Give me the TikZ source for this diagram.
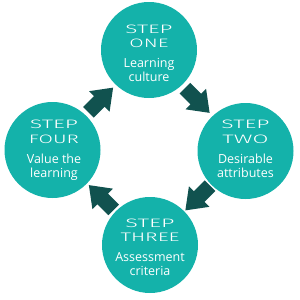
\documentclass[tikz,border=0pt]{standalone}
\usepackage{fontspec}
\usepackage{graphicx}
\setmainfont{Open Sans}
\newfontfamily\stepfont{Fira Sans Light}
\usetikzlibrary{calc}
\definecolor{tealc}{RGB}{20,178,170}
\definecolor{darkc}{RGB}{17,82,79}
\newcommand{\wordbox}[2]{\resizebox{#1pt}{8.5pt}{#2}}
\tikzset{
  stepcircle/.style={circle, fill=tealc, minimum size=96pt, inner sep=0pt},
  steptxt/.style={text=white, anchor=base, inner sep=0pt, font=\stepfont},
  bodytxt/.style={text=white, anchor=base, inner sep=0pt, font=\fontsize{12.5}{14}\selectfont},
  blockarrow/.pic={\fill[darkc] (-17.5,-7.5) -- (-2,-7.5) -- (-2,-14.5) -- (17.5,0) -- (-2,14.5) -- (-2,7.5) -- (-17.5,7.5) -- cycle;}
}
\begin{document}
\begin{tikzpicture}[x=1pt,y=-1pt]
\useasboundingbox (0,0) rectangle (300,300);
% circles
\node[stepcircle] (one) at (149,50) {};
\node[stepcircle] (two) at (245.5,151) {};
\node[stepcircle] (three) at (150,245) {};
\node[stepcircle] (four) at (52.5,150) {};
% texts
\node[steptxt] (oneA) at ($(one.center)+(0,-17)$) {\wordbox{47}{STEP}};
\node[steptxt] (oneB) at ($(one.center)+(0,-3)$) {\wordbox{39}{ONE}};
\node[bodytxt] (oneC) at ($(one.center)+(0,17)$) {Learning};
\node[bodytxt] (oneD) at ($(one.center)+(0,31)$) {culture};
\node[steptxt] (twoA) at ($(two.center)+(0,-22.5)$) {\wordbox{48}{STEP}};
\node[steptxt] (twoB) at ($(two.center)+(0,-8)$) {\wordbox{46}{TWO}};
\node[bodytxt] (twoC) at ($(two.center)+(0,12)$) {Desirable};
\node[bodytxt] (twoD) at ($(two.center)+(0,26)$) {attributes};
\node[steptxt] (threeA) at ($(three.center)+(0,-17.3)$) {\wordbox{49}{STEP}};
\node[steptxt] (threeB) at ($(three.center)+(0,-3.3)$) {\wordbox{59}{THREE}};
\node[bodytxt] (threeC) at ($(three.center)+(0,16)$) {Assessment};
\node[bodytxt] (threeD) at ($(three.center)+(0,30)$) {criteria};
\node[steptxt] (fourA) at ($(four.center)+(1.5,-21.7)$) {\wordbox{48}{STEP}};
\node[steptxt] (fourB) at ($(four.center)+(1.5,-7)$) {\wordbox{50}{FOUR}};
\node[bodytxt] (fourC) at ($(four.center)+(1.5,13)$) {Value the};
\node[bodytxt] (fourD) at ($(four.center)+(1.5,27)$) {learning};
% arrows
\pic[rotate=-45] at ($(one)!0.5!(two)$) {blockarrow};
\pic[rotate=-135] at ($(two)!0.5!(three)$) {blockarrow};
\pic[rotate=135] at ($(three)!0.5!(four)$) {blockarrow};
\pic[rotate=45] at ($(four)!0.5!(one)$) {blockarrow};
\end{tikzpicture}
\end{document}
